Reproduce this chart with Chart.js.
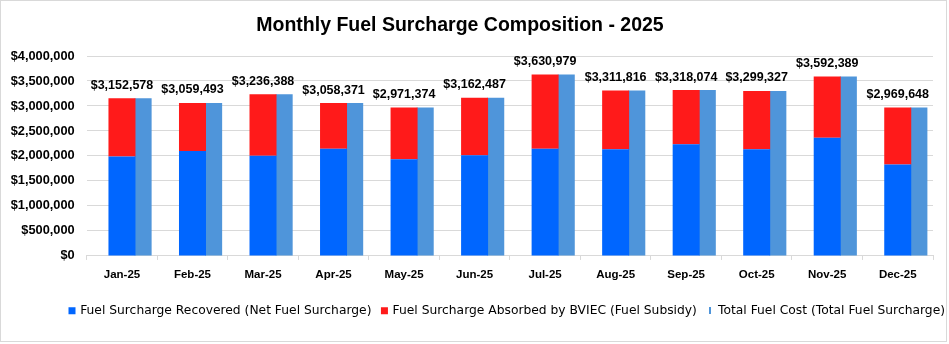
<!DOCTYPE html>
<html><head><meta charset="utf-8">
<script src="https://cdn.jsdelivr.net/npm/chart.js@4.4.0/dist/chart.umd.min.js"></script>
<style>
html,body{margin:0;padding:0;background:#fff;}
#wrap{position:relative;width:949px;height:344px;overflow:hidden;background:#fff;}
#c{position:absolute;left:0;top:0;}
#frame{position:absolute;left:0;top:0;width:945px;height:340px;border:1px solid #d9d9d9;pointer-events:none;}
#title{position:absolute;left:0;width:920px;top:13px;text-align:center;font:bold 19.5px "Liberation Sans";line-height:23px;color:#000;}
</style></head>
<body>
<div id="wrap">
<canvas id="c" width="956" height="344"></canvas>
<div id="title">Monthly Fuel Surcharge Composition - 2025</div>
<div id="frame"></div>
</div>
<script>
const categories = ['Jan-25','Feb-25','Mar-25','Apr-25','May-25','Jun-25','Jul-25','Aug-25','Sep-25','Oct-25','Nov-25','Dec-25'];
const recovered = [1990000, 2100000, 2005000, 2145000, 1935000, 2015000, 2145000, 2135000, 2235000, 2135000, 2365000, 1830000];
const absorbed  = [1162578, 959493, 1231388, 913371, 1036374, 1147487, 1485979, 1176816, 1083074, 1164327, 1227389, 1139648];
const totals    = [3152578, 3059493, 3236388, 3058371, 2971374, 3162487, 3630979, 3311816, 3318074, 3299327, 3592389, 2969648];
const seriesNames = ['Fuel Surcharge Recovered (Net Fuel Surcharge)', 'Fuel Surcharge Absorbed by BVIEC (Fuel Subsidy)', 'Total Fuel Cost (Total Fuel Surcharge)'];
const yMin = 0, yMax = 4000000, yStep = 500000;

const colors = ['#0066FF', '#FF1A1A', '#4F95DA'];
const fmt = v => '$' + Number(v).toLocaleString('en-US');

// small marker for the total series legend entry
const lineMarker = document.createElement('canvas');
lineMarker.width = 2; lineMarker.height = 7;
(function(){ const g = lineMarker.getContext('2d'); g.fillStyle = colors[2]; g.fillRect(0,0,2,7); })();

const totalShift = 0.3; // fraction of a category the total bar is offset to the right

const totalLabels = {
  id: 'totalLabels',
  afterDatasetsDraw(chart) {
    const meta = chart.getDatasetMeta(1);
    const ctx = chart.ctx;
    const xs = chart.scales.x;
    ctx.save();
    ctx.font = 'bold 12.5px "Liberation Sans"';
    ctx.fillStyle = '#000';
    ctx.textAlign = 'center';
    ctx.textBaseline = 'middle';
    meta.data.forEach((el, i) => {
      ctx.fillText(fmt(totals[i]), xs.getPixelForValue(i), el.y - 13);
    });
    ctx.restore();
  }
};

new Chart(document.getElementById('c'), {
  type: 'bar',
  data: {
    labels: categories,
    datasets: [
      { label: seriesNames[0], data: recovered, backgroundColor: colors[0], stack: 's', xAxisID: 'x', yAxisID: 'y', grouped: false, maxBarThickness: 27 },
      { label: seriesNames[1], data: absorbed, backgroundColor: colors[1], stack: 's', xAxisID: 'x', yAxisID: 'y', grouped: false, maxBarThickness: 27 },
      { label: seriesNames[2], data: totals.map((v, i) => ({ x: i, y: v })), backgroundColor: colors[2], xAxisID: 'x2', yAxisID: 'y', grouped: false, maxBarThickness: 17 }
    ]
  },
  options: {
    responsive: false,
    animation: false,
    layout: { padding: { top: 56, right: 0, bottom: 17, left: 0 } },
    scales: {
      x: {
        type: 'category',
        stacked: true,
        offset: true,
        grid: { offset: true, drawOnChartArea: false, drawTicks: true, tickLength: 4, color: '#d9d9d9' },
        border: { color: '#d9d9d9' },
        ticks: { color: '#000', padding: 8, font: { family: 'Liberation Sans', weight: 'bold', size: 11.5 } },
        afterFit: s => { s.height = 37.75; }
      },
      x2: {
        type: 'linear',
        position: 'top',
        display: true,
        offset: false,
        min: -0.5 - totalShift,
        max: categories.length - 0.5 - totalShift,
        ticks: { display: false },
        grid: { display: false, drawTicks: false },
        border: { display: false },
        afterFit: s => { s.height = 0; }
      },
      y: {
        stacked: true,
        min: yMin, max: yMax,
        ticks: { stepSize: yStep, color: '#000', padding: 12, callback: v => fmt(v), font: { family: 'Liberation Sans', weight: 'bold', size: 12.8 } },
        grid: { color: '#d9d9d9', drawTicks: false },
        border: { display: false },
        afterFit: s => { s.width = 86.7; }
      },
      yR: {
        type: 'linear',
        position: 'right',
        display: true,
        ticks: { display: false },
        grid: { display: false, drawTicks: false },
        border: { display: false },
        afterFit: s => { s.width = 23; }
      }
    },
    plugins: {
      title: { display: false },
      tooltip: { enabled: false },
      legend: {
        position: 'bottom',
        align: 'end',
        labels: {
          usePointStyle: true,
          boxWidth: 4,
          boxHeight: 7,
          padding: 11,
          color: '#000',
          font: { family: 'DejaVu Sans', size: 12.3 },
          generateLabels: chart => chart.data.datasets.map((ds, i) => ({
            text: ds.label,
            fillStyle: colors[i],
            strokeStyle: colors[i],
            lineWidth: 0,
            pointStyle: i === 2 ? lineMarker : 'rect',
            datasetIndex: i,
            fontColor: '#000',
            hidden: false
          }))
        }
      }
    }
  },
  plugins: [totalLabels]
});
</script>
</body></html>
